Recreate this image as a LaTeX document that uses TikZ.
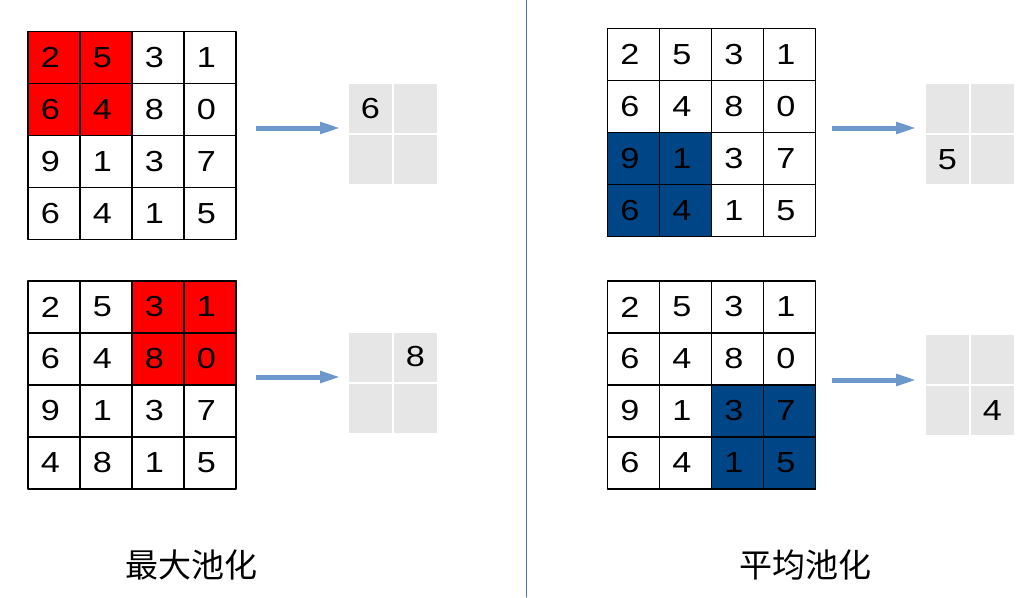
\documentclass[tikz,border=0pt]{standalone}
\usepackage{fontspec}
\setmainfont{Liberation Sans}
\newfontfamily\digitfont[FakeStretch=1.18]{Liberation Sans}
\newfontfamily\cjk{Noto Sans CJK SC}
\usepackage{xcolor}
\usetikzlibrary{positioning,calc,backgrounds,arrows.meta}

\definecolor{maxred}{RGB}{255,0,0}
\definecolor{avgblue}{RGB}{0,69,134}
\definecolor{outgray}{RGB}{230,230,230}
\definecolor{arrowblue}{RGB}{108,152,204}
\definecolor{divblue}{RGB}{68,114,196}

% ---- 4x4 input grid: name, left, top, rows ----
\newcommand{\inputgrid}[4]{%
	\foreach \row [count=\r] in {#4}{
		\foreach \d [count=\c] in \row{
			\node[cell] (#1-\r-\c) at ({#2+52*\c-26},{#3+52*\r-26}) {\d};
		}
	}
}
% ---- 2x2 output grid: name, left, top, row, col, value ----
\newcommand{\outputgrid}[6]{%
	\foreach \r in {1,2}{
		\foreach \c in {1,2}{
			\node[outcell] (#1-\r-\c) at ({#2+45*\c-22.5},{#3+51*\r-25.5})
			{\ifnum\r=#4 \ifnum\c=#5 #6\fi\fi};
		}
	}
}

\begin{document}
\begin{tikzpicture}[x=1pt, y=-1pt, line cap=round, line join=round,
	cell/.style={rectangle, draw=black, line width=1.2pt, minimum width=52pt,
		minimum height=52pt, inner sep=0pt,
		font=\digitfont\fontsize{29}{34}\selectfont, execute at end node=\hspace{7pt}},
	outcell/.style={rectangle, draw=white, line width=2pt, fill=outgray,
		minimum width=45pt, minimum height=51pt, inner sep=0pt,
		font=\digitfont\fontsize{29}{34}\selectfont},
	poolarrow/.style={draw=arrowblue, line width=5pt, line cap=butt,
		-{Triangle[length=21pt, width=11pt]}},
	title/.style={font=\cjk\fontsize{33}{40}\selectfont, inner sep=0pt}]
	\useasboundingbox (0,0) rectangle (1036,597);
	
	% ---- đường chia giữa ----
	\coordinate (divtop) at (526,0);
	\coordinate (divbot) at (526,597);
	\draw[divblue, line width=1pt] (divtop) -- (divbot);
	
	% ---- max pooling (trái) ----
	\inputgrid{A}{28}{31.5}{{2,5,3,1},{6,4,8,0},{9,1,3,7},{6,4,1,5}}
	\inputgrid{B}{28}{281}{{2,5,3,1},{6,4,8,0},{9,1,3,7},{4,8,1,5}}
	\outputgrid{oA}{348}{82.7}{1}{1}{6}
	\outputgrid{oB}{348}{331.5}{1}{2}{8}
	
	% ---- average pooling (phải) ----
	\inputgrid{C}{607.5}{28.3}{{2,5,3,1},{6,4,8,0},{9,1,3,7},{6,4,1,5}}
	\inputgrid{D}{607.5}{281}{{2,5,3,1},{6,4,8,0},{9,1,3,7},{6,4,1,5}}
	\outputgrid{oC}{925}{82.7}{2}{1}{5}
	\outputgrid{oD}{925}{334}{2}{2}{4}
	
	% ---- ô được tô màu (vẽ dưới lưới) ----
	\begin{scope}[on background layer]
		\fill[maxred] (A-1-1.north west) rectangle (A-2-2.south east);
		\fill[maxred] (B-1-3.north west) rectangle (B-2-4.south east);
		\fill[avgblue] (C-3-1.north west) rectangle (C-4-2.south east);
		\fill[avgblue] (D-3-3.north west) rectangle (D-4-4.south east);
	\end{scope}
	
	% ---- mũi tên ----
	\coordinate (sA) at (256,128);   \coordinate (eA) at (341,128);
	\coordinate (sB) at (256,377);   \coordinate (eB) at (341,377);
	\coordinate (sC) at (832,128);   \coordinate (eC) at (917,128);
	\coordinate (sD) at (832,380);   \coordinate (eD) at (917,380);
	\foreach \g in {A,B,C,D}{
		\draw[poolarrow] (s\g) -- (e\g);
	}
	
	% ---- nhãn ----
	\node[title] (maxlabel) at (191,565) {最大池化};
	\node[title] (avglabel) at (805,565) {平均池化};
\end{tikzpicture}
\end{document}
